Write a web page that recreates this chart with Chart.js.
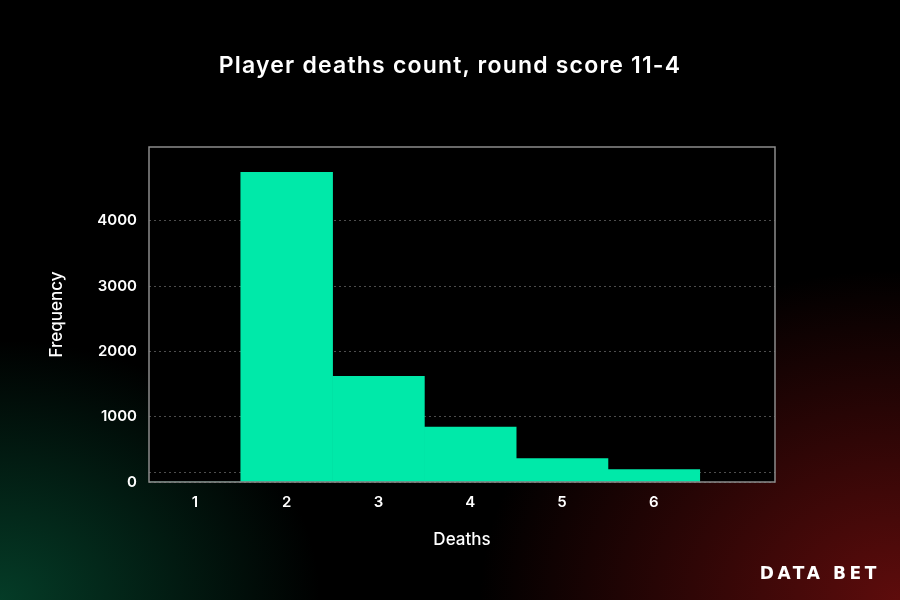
<!DOCTYPE html>
<html lang="en">
<head>
    <meta charset="UTF-8">
    <title>Player deaths count</title>
    <script src="https://cdn.jsdelivr.net/npm/chart.js"></script>
    <style>
        html, body { margin: 0; padding: 0; }
        body {
            width: 900px; height: 600px; overflow: hidden; position: relative;
            background:
                radial-gradient(ellipse 320px 260px at 0px 600px, rgba(6, 80, 52, 0.75), rgba(6, 80, 52, 0) 100%),
                radial-gradient(ellipse 420px 330px at 900px 600px, rgba(110, 14, 14, 0.85), rgba(110, 14, 14, 0) 100%),
                #000;
        }
        #wrap { position: absolute; left: 0; top: 0; width: 900px; height: 600px; }
        .title {
            position: absolute; left: 0; width: 900px; top: 51px; text-align: center;
            color: #fff; font: 600 23px Inter, "Noto Sans", sans-serif; letter-spacing: 1.2px;
        }
        .logo {
            position: absolute; right: 20px; top: 563px;
            color: #fff; font: bold 17px "DejaVu Sans", sans-serif; letter-spacing: 3.6px;
        }
    </style>
</head>
<body>
    <div id="wrap"><canvas id="chart" width="900" height="600"></canvas></div>
    <div class="title">Player deaths count, round score 11-4</div>
    <div class="logo">DATA BET</div>
    <script>
        // histogram bins (deaths) and counts
        const deaths = [1, 2, 3, 4, 5, 6];
        const frequency = [0, 4743, 1619, 842, 358, 190];
        const yTicks = [0, 150, 1000, 2000, 3000, 4000];
        const xTicks = [1, 2, 3, 4, 5, 6];

        const white = "#ffffff";
        const font = "Inter, 'Noto Sans', sans-serif";

        // black plot area + grey frame
        const frame = {
            id: "frame",
            beforeDraw(chart) {
                const a = chart.chartArea, ctx = chart.ctx;
                ctx.save();
                ctx.fillStyle = "#000";
                ctx.fillRect(a.left, a.top, a.right - a.left, a.bottom - a.top);
                ctx.restore();
            },
            afterDraw(chart) {
                const a = chart.chartArea, ctx = chart.ctx;
                ctx.save();
                ctx.strokeStyle = "#8c8c8c";
                ctx.lineWidth = 1.5;
                ctx.strokeRect(a.left, a.top, a.right - a.left, a.bottom - a.top);
                ctx.restore();
            }
        };

        new Chart(document.getElementById("chart"), {
            type: "bar",
            data: {
                datasets: [{
                    data: deaths.map((d, i) => ({ x: d, y: frequency[i] })),
                    backgroundColor: "#00e9a9",
                    borderWidth: 0,
                    barPercentage: 1,
                    categoryPercentage: 1
                }]
            },
            options: {
                responsive: false,
                animation: false,
                layout: { padding: { left: 0, right: 125, top: 147, bottom: 0 } },
                plugins: {
                    legend: { display: false },
                    tooltip: { enabled: false }
                },
                scales: {
                    x: {
                        type: "linear",
                        min: 0.5,
                        max: 7.32,
                        offset: false,
                        afterBuildTicks: s => { s.ticks = xTicks.map(v => ({ value: v })); },
                        afterFit: s => { s.height = 118; },
                        grid: { display: false, drawTicks: false },
                        border: { display: false },
                        ticks: { color: white, padding: 11, font: { family: font, size: 15, weight: "600" } },
                        title: {
                            display: true, text: "Deaths", color: white,
                            font: { family: font, size: 17, weight: "500" },
                            padding: { top: 0, bottom: 50 }
                        }
                    },
                    y: {
                        min: 0,
                        max: 5130,
                        afterBuildTicks: s => { s.ticks = yTicks.map(v => ({ value: v })); },
                        afterFit: s => { s.width = 149; },
                        grid: { color: "#4d4d4d", lineWidth: 1, drawTicks: false },
                        border: { display: false, dash: [2, 3] },
                        ticks: {
                            color: white, padding: 12,
                            font: { family: font, size: 15, weight: "600" },
                            callback: v => (v === 150 ? "" : v)
                        },
                        title: {
                            display: true, text: "Frequency", color: white,
                            font: { family: font, size: 17, weight: "500" },
                            padding: { top: 47, bottom: 0 }
                        }
                    }
                }
            },
            plugins: [frame]
        });
    </script>
</body>
</html>
